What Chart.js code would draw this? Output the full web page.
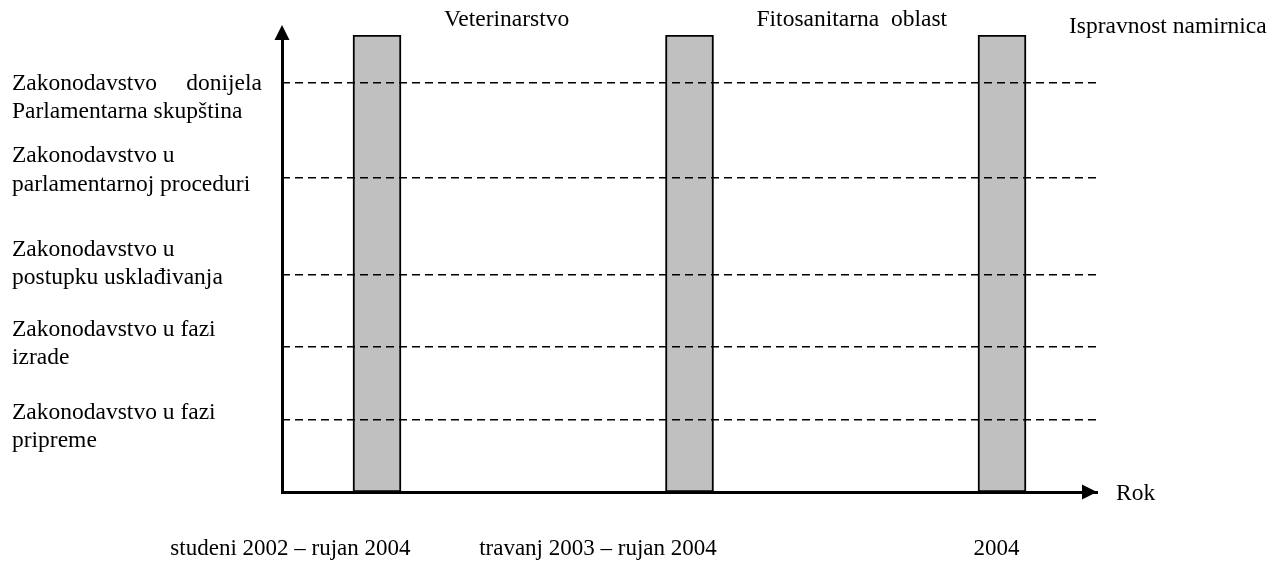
<!DOCTYPE html>
<html>
<head>
<meta charset="utf-8">
<script src="https://cdn.jsdelivr.net/npm/chart.js@4/dist/chart.umd.min.js"></script>
<style>
  html, body { margin: 0; padding: 0; background: #ffffff; }
  #wrap { width: 1285px; height: 563px; position: relative; }
</style>
</head>
<body>
<div id="wrap"><canvas id="c" width="1285" height="563"></canvas></div>
<script>
// ---- data ----
const sectors = ['Veterinarstvo', 'Fitosanitarna  oblast', 'Ispravnost namirnica'];
const sectorPositions = [0, 1, 2];
const barValues = [10, 10, 10];
const periodLabels = ['studeni 2002 – rujan 2004', 'travanj 2003 – rujan 2004', '2004'];
const periodTickValues = [-0.277, 0.707, 1.982];
const levelLabels = [
  ['Zakonodavstvo u fazi', 'pripreme'],
  ['Zakonodavstvo u fazi', 'izrade'],
  ['Zakonodavstvo u', 'postupku usklađivanja'],
  ['Zakonodavstvo u', 'parlamentarnoj proceduri'],
  ['Zakonodavstvo     donijela', 'Parlamentarna skupština']
];
const levelValues = [1.58, 3.17, 4.75, 6.87, 8.95];
const levelLabelValues = [1.42, 3.24, 5.0, 7.04, 8.63];
const axisTitle = 'Rok';

Chart.defaults.font.family = "'Liberation Serif', 'Times New Roman', serif";
Chart.defaults.font.size = 23;
Chart.defaults.color = '#000000';

const FONT = "23.5px 'Liberation Serif', 'Times New Roman', serif";

const decorations = {
  id: 'decorations',
  afterDraw(chart) {
    const ctx = chart.ctx;
    const a = chart.chartArea;
    const xs = chart.scales.x;
    ctx.save();
    ctx.fillStyle = '#000000';
    // y axis arrow head
    ctx.beginPath();
    ctx.moveTo(a.left, a.top - 10);
    ctx.lineTo(a.left - 7.5, a.top + 5);
    ctx.lineTo(a.left + 7.5, a.top + 5);
    ctx.closePath();
    ctx.fill();
    // x axis arrow head
    ctx.beginPath();
    ctx.moveTo(a.right, a.bottom);
    ctx.lineTo(a.right - 15, a.bottom - 7.5);
    ctx.lineTo(a.right - 15, a.bottom + 7.5);
    ctx.closePath();
    ctx.fill();
    // axis title
    ctx.font = FONT;
    ctx.textAlign = 'left';
    ctx.textBaseline = 'middle';
    ctx.fillText(axisTitle, a.right + 19, a.bottom + 2);
    // sector names above bars
    const dy = [-15, -15, -8];
    sectors.forEach((s, i) => {
      const px = xs.getPixelForValue(sectorPositions[i]);
      ctx.fillText(s, px + 67, a.top + dy[i]);
    });
    ctx.restore();
  }
};

new Chart(document.getElementById('c'), {
  type: 'bar',
  data: {
    datasets: [{
      data: sectorPositions.map((x, i) => ({ x: x, y: barValues[i] })),
      backgroundColor: '#c0c0c0',
      borderColor: '#000000',
      borderWidth: 2,
      borderSkipped: false,
      barThickness: 48
    }]
  },
  options: {
    responsive: false,
    animation: false,
    events: [],
    layout: { padding: { left: 12, top: 35, right: 188, bottom: 0 } },
    plugins: { legend: { display: false }, tooltip: { enabled: false }, title: { display: false } },
    scales: {
      x: {
        type: 'linear',
        offset: false,
        min: -0.304,
        max: 2.304,
        afterFit(scale) { scale.height = 71; },
        afterBuildTicks(scale) { scale.ticks = periodTickValues.map(v => ({ value: v })); },
        grid: { display: false, drawTicks: false, offset: false },
        border: { display: true, color: '#000000', width: 3 },
        ticks: {
          autoSkip: false,
          maxRotation: 0,
          padding: 43,
          font: { size: 23, lineHeight: 1.22 },
          callback: (v, i) => periodLabels[i]
        }
      },
      y: {
        type: 'linear',
        position: 'left',
        min: 0,
        max: 10,
        afterFit(scale) { scale.width = 270; },
        afterBuildTicks(scale) { scale.ticks = levelLabelValues.map(v => ({ value: v })); },
        grid: { display: false, drawTicks: false },
        border: { display: true, color: '#000000', width: 3 },
        ticks: {
          autoSkip: false,
          crossAlign: 'far',
          padding: 0,
          font: { size: 23.5, lineHeight: 1.2 },
          callback: (v, i) => levelLabels[i]
        }
      },
      y2: {
        type: 'linear',
        position: 'right',
        min: 0,
        max: 10,
        afterFit(scale) { scale.width = 0; },
        afterBuildTicks(scale) { scale.ticks = levelValues.map(v => ({ value: v })); },
        grid: { display: true, drawTicks: false, color: '#000000', lineWidth: 1.5, z: 1 },
        border: { display: false, dash: [8, 5] },
        ticks: { display: false }
      }
    }
  },
  plugins: [decorations]
});
</script>
</body>
</html>
